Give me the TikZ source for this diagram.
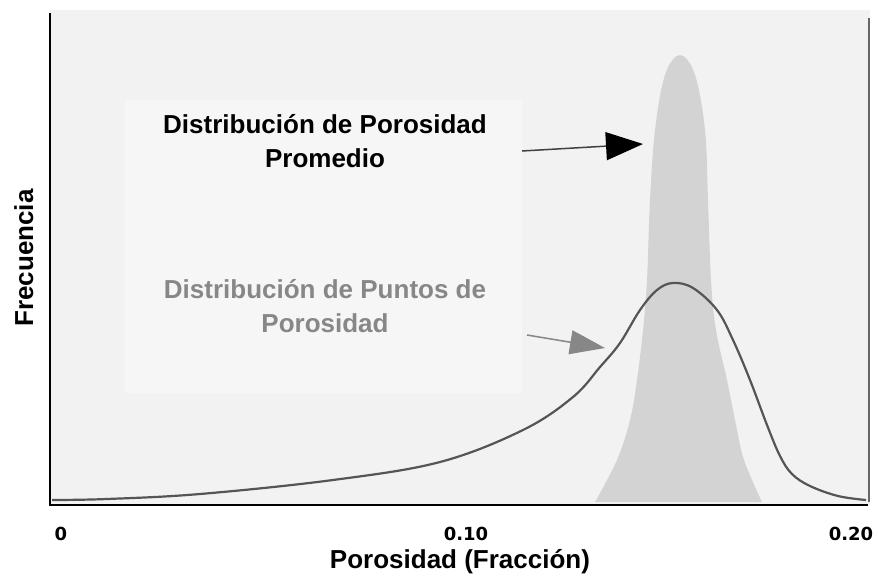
\documentclass[tikz,border=0pt]{standalone}
\usepackage{fontspec}
\setmainfont{Liberation Sans}
\newfontfamily\tickfont{DejaVu Sans}
\usetikzlibrary{arrows.meta}

\definecolor{panelgray}{HTML}{F2F2F2}
\definecolor{boxgray}{HTML}{F6F6F6}
\definecolor{peakgray}{HTML}{D3D3D3}
\definecolor{curvegray}{HTML}{555555}
\definecolor{notegray}{HTML}{878787}

\begin{document}
\begin{tikzpicture}[x=1pt,y=-1pt,>=latex,
    bigtext/.style={font=\bfseries\fontsize{26}{34}\selectfont, align=center, inner sep=0pt, anchor=base},
    axistext/.style={font=\bfseries\fontsize{26}{30}\selectfont, inner sep=0pt, anchor=base},
    ticktext/.style={font=\tickfont\bfseries\fontsize{18}{20}\selectfont, inner sep=0pt, anchor=base},
    promarrow/.style={draw=black!75, line width=1.5pt, -{Triangle[length=37pt,width=28pt,color=black]}},
    puntarrow/.style={draw=notegray, line width=1.5pt, -{Triangle[length=35pt,width=24pt]}}]

    \useasboundingbox (0,0) rectangle (878,576);

    % Draw the panel and the note box
    \fill[panelgray] (50,10) rectangle (870,505);
    \fill[boxgray] (125,100) rectangle (522,393);

    % Draw the narrow peak (average porosity)
    \fill[peakgray] plot[smooth, tension=0.6] coordinates {
        (595,502) (617,460) (630,420) (637,380) (643,330) (647,280) (650,200)
        (655,130) (665,75) (680,55) (695,75) (705,130) (708,200) (711,280)
        (716,330) (727,380) (735,420) (744,460) (762,502)} -- cycle;

    % Draw the wide curve (point porosity)
    \draw[curvegray, line width=2.2pt] plot[smooth, tension=0.6] coordinates {
        (52,500) (107,499) (200,494) (333,480) (440,462) (523,430) (573,397)
        (600,367) (620,343) (640,310) (657,290) (673,283) (693,288) (717,310)
        (733,340) (750,380) (767,425) (780,456) (792,474) (810,486) (838,496)
        (866,500)};

    % Draw the axes
    \draw[black!60, line width=2pt] (869,18) -- (869,502);
    \draw[black, line width=2.5pt] (50,13) -- (50,505) -- (868,505);

    % Tick labels
    \node[ticktext] (tickA) at (61,540) {0};
    \node[ticktext] (tickB) at (466,540) {0.10};
    \node[ticktext] (tickC) at (851,540) {0.20};

    % Axis labels
    \node[axistext] (xlab) at (460,568) {Porosidad (Fracción)};
    \node[axistext, rotate=90] (ylab) at (33,258) {Frecuencia};

    % The two notes
    \node[bigtext] (promedio) at (325,167) {Distribución de Porosidad\\Promedio};
    \node[bigtext, text=notegray] (puntos) at (325,332) {Distribución de Puntos de\\Porosidad};

    % The arrows
    \coordinate (promTail) at (522,151);
    \coordinate (promTip) at (643,144);
    \coordinate (puntTail) at (527,335);
    \coordinate (puntTip) at (605,348);
    \draw[promarrow] (promTail) -- (promTip);
    \draw[puntarrow] (puntTail) -- (puntTip);
\end{tikzpicture}
\end{document}
